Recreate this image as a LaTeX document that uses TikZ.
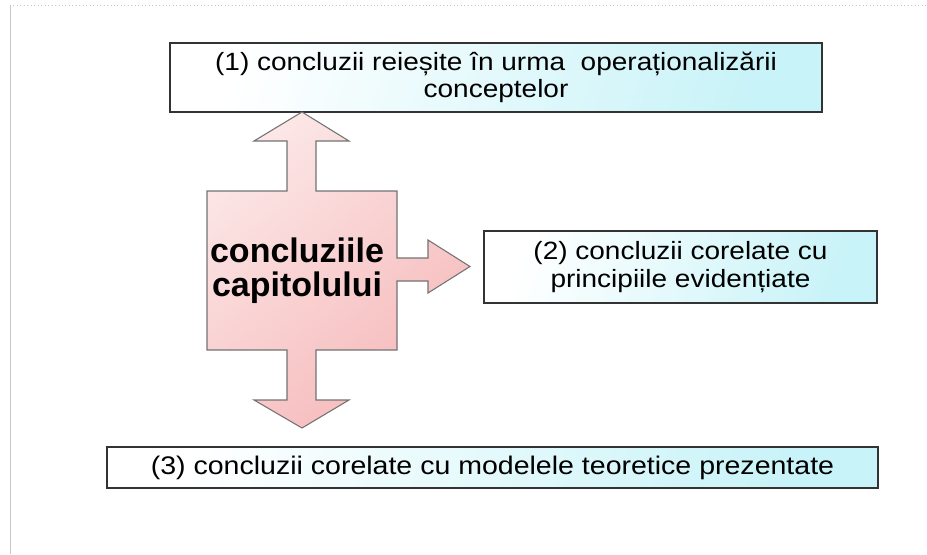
\documentclass[tikz,border=0pt]{standalone}
\usepackage{fontspec}
\usepackage{tikz}
\newfontfamily\boxfont[FakeStretch=1.12]{Liberation Sans}
\newfontfamily\capfont{Liberation Sans}
\definecolor{boxcyan}{HTML}{C8F3F8}
\definecolor{capink}{HTML}{F6B9BA}
\definecolor{caplight}{HTML}{FCE6E6}
\tikzset{concl/.style={draw=black!80, line width=0.9pt, left color=white, right color=boxcyan, shading angle=70, align=center, inner sep=0pt, font=\boxfont\fontsize{18.75pt}{20.5pt}\selectfont}}
\tikzset{crossarrow/.style={draw=black!55, line width=0.8pt, top color=caplight, bottom color=capink, shading angle=40}}
\tikzset{captext/.style={align=center, inner sep=0pt, font=\capfont\bfseries\fontsize{25.5pt}{25.5pt}\selectfont}}
\tikzset{slideframe/.style={draw=black!22, line width=0.6pt}}

\begin{document}
\begin{tikzpicture}[x=0.75pt,y=-0.75pt]
%chapter conclusions pointing to the three kinds of conclusions
\useasboundingbox (0,0) rectangle (927,554);
\draw[slideframe, dotted] (10,5)--(927,5);
\draw[slideframe] (10,5)--(10,554);
\node (c1) at (496,77.5)[concl, minimum width=489pt, minimum height=51.75pt]{(1) concluzii reieșite în urma~ operaționalizării\\conceptelor};
\node (c2) at (680.5,267)[concl, minimum width=294.75pt, minimum height=54pt]{(2) concluzii corelate cu\\principiile evidențiate};
\node (c3) at (492.5,467.5)[concl, minimum width=578.25pt, minimum height=30.75pt, font=\boxfont\fontsize{19.1pt}{20.5pt}\selectfont]{(3) concluzii corelate cu modelele teoretice prezentate};
\draw[crossarrow] (302,112)--(349,141)--(316,141)--(316,191)--(397,191)--(397,258)--(428,258)--(428,240)--(470,266.5)--(428,293)--(428,281)--(397,281)--(397,350)--(316,350)--(316,400)--(349,400)--(302,428)--(254,400)--(287,400)--(287,350)--(207,350)--(207,191)--(287,191)--(287,141)--(254,141)--cycle;
\node (cap) at (297,271)[captext]{concluziile\\capitolului};
\end{tikzpicture}
\end{document}
